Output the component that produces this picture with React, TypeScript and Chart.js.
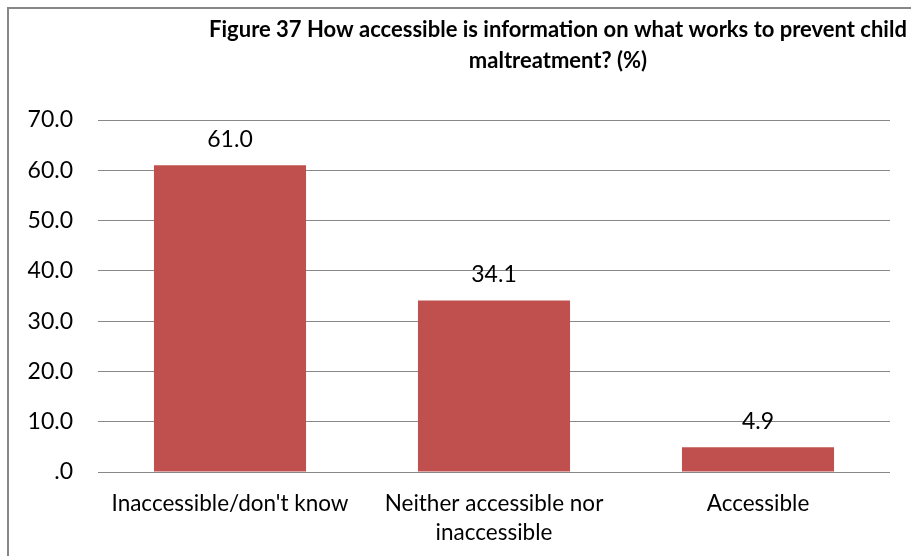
import React, { useEffect, useRef } from "react";
import { Chart, registerables } from "chart.js";

Chart.register(...registerables);

const titleLines = [
  "Figure 37 How accessible is information on what works to prevent child",
  "maltreatment? (%)",
];
const categories: (string | string[])[] = [
  "Inaccessible/don't know",
  ["Neither accessible nor", "inaccessible"],
  "Accessible",
];
const values = [61.0, 34.1, 4.9];
const yMin = 0;
const yMax = 70;
const yStep = 10;

const FONT = "Lato, 'Open Sans', sans-serif";

export default function App() {
  const ref = useRef<HTMLCanvasElement | null>(null);

  useEffect(() => {
    if (!ref.current) return;

    const extras = {
      id: "extras",
      afterDatasetsDraw(chart: any) {
        const ctx = chart.ctx;
        const meta = chart.getDatasetMeta(0);
        ctx.save();
        ctx.fillStyle = "#000";
        ctx.font = `23px ${FONT}`;
        ctx.textAlign = "center";
        ctx.textBaseline = "middle";
        meta.data.forEach((el: any, i: number) => {
          ctx.fillText(values[i].toFixed(1), el.x, el.y - 26);
        });
        ctx.restore();
      },
      afterDraw(chart: any) {
        const ctx = chart.ctx;
        ctx.save();
        ctx.fillStyle = "#000";
        ctx.font = `bold 22px ${FONT}`;
        ctx.textAlign = "center";
        ctx.textBaseline = "middle";
        titleLines.forEach((t, i) => ctx.fillText(t, 558, 30 + i * 31));
        ctx.strokeStyle = "#878787";
        ctx.lineWidth = 2;
        ctx.strokeRect(8, 8, 960, 600);
        ctx.restore();
      },
    };

    const chart = new Chart(ref.current, {
      type: "bar",
      data: {
        labels: categories,
        datasets: [
          {
            data: values,
            backgroundColor: "#C0504D",
            borderWidth: 0,
            barPercentage: 0.576,
            categoryPercentage: 1,
          },
        ],
      },
      options: {
        animation: false,
        responsive: false,
        maintainAspectRatio: false,
        layout: { padding: { left: 0, top: 120, right: 21, bottom: 0 } },
        plugins: {
          legend: { display: false },
          title: { display: false },
          tooltip: { enabled: false },
        },
        scales: {
          y: {
            min: yMin,
            max: yMax,
            ticks: {
              stepSize: yStep,
              color: "#000",
              font: { family: FONT, size: 23 },
              padding: 25,
              callback: (v: any) => (Number(v) === 0 ? ".0" : Number(v).toFixed(1)),
            },
            grid: { color: "#888888", lineWidth: 1, drawTicks: false },
            border: { display: false },
            afterFit: (s: any) => {
              s.width = 98;
            },
          },
          x: {
            ticks: {
              color: "#000",
              font: { family: FONT, size: 22.5, lineHeight: 1.3 },
              padding: 17,
              maxRotation: 0,
              autoSkip: false,
            },
            grid: { display: false, drawTicks: false },
            border: { display: false },
            afterFit: (s: any) => {
              s.height = 84;
            },
          },
        },
      },
      plugins: [extras],
    });
    return () => chart.destroy();
  }, []);

  return (
    <div style={{ position: "absolute", left: 0, top: 0, width: 911, height: 556, background: "#fff" }}>
      <canvas ref={ref} width={911} height={556} style={{ width: 911, height: 556 }} />
    </div>
  );
}
